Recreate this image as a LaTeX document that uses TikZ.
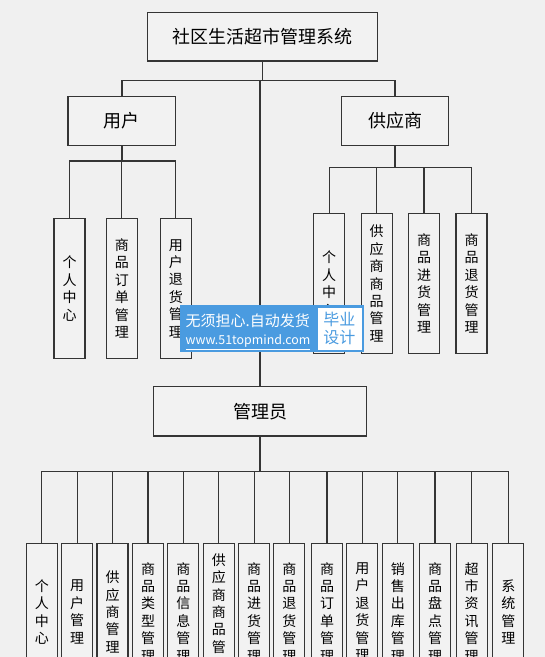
\documentclass[tikz,border=0pt]{standalone}
\usepackage{fontspec}
\setmainfont{Noto Sans CJK SC}
\definecolor{bgC}{HTML}{F0F0F0}
\definecolor{lineC}{HTML}{353535}
\definecolor{boxC}{HTML}{F2F2F2}
\definecolor{wmC}{HTML}{4A9BE0}
\begin{document}
\begin{tikzpicture}[x=1pt,y=-1pt,
  conn/.style={draw=lineC, line width=1.3pt},
  bigbox/.style={draw=lineC, line width=1.3pt, fill=boxC, inner sep=0pt, font=\fontsize{18}{20}\selectfont},
  vbox/.style={draw=lineC, line width=1.3pt, fill=boxC, inner sep=0pt, minimum width=31pt, align=center, font=\fontsize{14}{17.4}\selectfont},
  ubox/.style={vbox, minimum height=139.6pt},
  abox/.style={vbox, minimum height=137.5pt}
]
\useasboundingbox (0,0) rectangle (545,657);
\clip (0,0) rectangle (545,657);
\fill[bgC] (0,0) rectangle (545,657);

% level 0 and 1
\node[bigbox, minimum width=230pt, minimum height=48.7pt] (root) at (262.7,36.7) {社区生活超市管理系统};
\node[bigbox, minimum width=107.6pt, minimum height=48.6pt] (user) at (121.9,121) {用户};
\node[bigbox, minimum width=107.4pt, minimum height=48.6pt] (supp) at (395,121) {供应商};
\node[bigbox, minimum width=213.4pt, minimum height=49.3pt] (admin) at (260,411.3) {管理员};

\coordinate (b1) at (0,80.7);
\coordinate (b2) at (0,161);
\coordinate (b3) at (0,167.7);
\coordinate (b4) at (0,471.7);

% user children
\node[ubox] (u1) at (69.5,288.5) {个\\人\\中\\心};
\node[ubox] (u2) at (121.8,288.5) {商\\品\\订\\单\\管\\理};
\node[ubox] (u3) at (175.8,288.5) {用\\户\\退\\货\\管\\理};

% supplier children
\node[ubox] (s1) at (329.2,283.5) {个\\人\\中\\心};
\node[ubox] (s2) at (376.7,283.5) {供\\应\\商\\商\\品\\管\\理};
\node[ubox] (s3) at (424,283.5) {商\\品\\进\\货\\管\\理};
\node[ubox] (s4) at (471.5,283.5) {商\\品\\退\\货\\管\\理};

% admin children
\node[abox] (a1) at (41.8,612) {个\\人\\中\\心};
\node[abox] (a2) at (77.2,612) {用\\户\\管\\理};
\node[abox] (a3) at (112.5,612) {供\\应\\商\\管\\理};
\node[abox] (a4) at (148,612) {商\\品\\类\\型\\管\\理};
\node[abox] (a5) at (183.3,612) {商\\品\\信\\息\\管\\理};
\node[abox] (a6) at (218.8,612) {供\\应\\商\\商\\品\\管\\理};
\node[abox] (a7) at (254.2,612) {商\\品\\进\\货\\管\\理};
\node[abox] (a8) at (289.3,612) {商\\品\\退\\货\\管\\理};
\node[abox] (a9) at (327,612) {商\\品\\订\\单\\管\\理};
\node[abox] (a10) at (362.3,612) {用\\户\\退\\货\\管\\理};
\node[abox] (a11) at (397.8,612) {销\\售\\出\\库\\管\\理};
\node[abox] (a12) at (435,612) {商\\品\\盘\\点\\管\\理};
\node[abox] (a13) at (471.7,612) {超\\市\\资\\讯\\管\\理};
\node[abox] (a14) at (508.3,612) {系\\统\\管\\理};

% connectors level 0 -> 1
\draw[conn] (root.south) -- (root.south |- b1);
\draw[conn] (user.north) |- (b1 -| supp.north) -- (supp.north);
\draw[conn] (admin.north) -- (admin.north |- b1);

% user connectors
\draw[conn] (user.south) -- (user.south |- b2);
\draw[conn] (u1.north) |- (b2 -| u3.north) -- (u3.north);
\draw[conn] (u2.north) -- (u2.north |- b2);

% supplier connectors
\draw[conn] (supp.south) -- (supp.south |- b3);
\draw[conn] (s1.north) |- (b3 -| s4.north) -- (s4.north);
\foreach \n in {s2,s3} \draw[conn] (\n.north) -- (\n.north |- b3);

% admin connectors
\draw[conn] (admin.south) -- (admin.south |- b4);
\draw[conn] (a1.north) |- (b4 -| a14.north) -- (a14.north);
\foreach \n in {a2,a3,a4,a5,a6,a7,a8,a9,a10,a11,a12,a13} \draw[conn] (\n.north) -- (\n.north |- b4);

% watermark
\node[fill=wmC, draw=none, minimum width=183.3pt, minimum height=46.7pt, inner sep=0pt, anchor=north west] (wm) at (180,305) {};
\node[fill=white, draw=wmC, line width=0.8pt, minimum width=45pt, minimum height=43pt, inner sep=0pt, anchor=north west] (wmw) at (316.5,306.5) {};
\node[text=white, font=\fontsize{15}{17}\selectfont, inner sep=0pt, anchor=west] (wmt1) at (185.5,321) {无须担心.自动发货};
\node[text=white, font=\fontsize{12.4}{15}\selectfont, inner sep=0pt, anchor=west] (wmt2) at (185.5,342.3) {\underline{www.51topmind.com}};
\node[text=wmC, font=\fontsize{16}{18}\selectfont, inner sep=0pt] (wmt3) at (wmw.center |- 0,319.3) {毕业};
\node[text=wmC, font=\fontsize{16}{18}\selectfont, inner sep=0pt] (wmt4) at (wmw.center |- 0,337.7) {设计};
\end{tikzpicture}
\end{document}
